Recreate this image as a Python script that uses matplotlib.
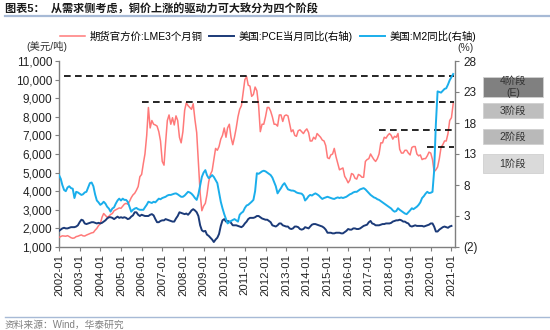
import matplotlib
matplotlib.use('Agg')
import matplotlib.pyplot as plt
import matplotlib.dates as mdates
import pandas as pd
from matplotlib.patches import Rectangle
from matplotlib.lines import Line2D
from matplotlib.ticker import FuncFormatter, FixedLocator

plt.rcParams['font.family'] = ['Liberation Sans', 'Noto Sans CJK SC']

# ---------------- data (monthly, 2002-01 .. ) ----------------
lme_copper = [
    1520, 1560, 1600, 1590, 1580, 1610, 1560, 1500, 1470, 1490, 1560, 1580,  # 2002
    1620, 1650, 1600, 1590, 1640, 1680, 1720, 1760, 1780, 1900, 2000, 2150,  # 2003
    2250, 2600, 2800, 2700, 2600, 2650, 2750, 2800, 2950, 3000, 3050, 3100,  # 2004
    3080, 3200, 3300, 3350, 3300, 3450, 3650, 3800, 3890, 4050, 4250, 4780,  # 2005
    4900, 5500, 6000, 7000, 8500, 7400, 7800, 7600, 7560, 7500, 7200, 6700,  # 2006
    5600, 5400, 6600, 7800, 8100, 7600, 7950, 7560, 8050, 7800, 6900, 6600,  # 2007
    7200, 8350, 8750, 8600, 8500, 8400, 8700, 7850, 7150, 5500, 3900, 2950,  # 2008
    3200, 3350, 3800, 4500, 4900, 5100, 5700, 6300, 6200, 6400, 6800, 7000,  # 2009
    7400, 6900, 7400, 7600, 6900, 6500, 6900, 7400, 8000, 8400, 8600, 9300,  # 2010
    10000, 10150, 9700, 9650, 9100, 9200, 9600, 9400, 8600, 7200, 7600, 7600,  # 2011
    8000, 8500, 8500, 8300, 8000, 7600, 7600, 7500, 8100, 8100, 7750, 8050,  # 2012
    8100, 8050, 7650, 7200, 7300, 7000, 6950, 7250, 7300, 7200, 7100, 7250,  # 2013
    7350, 7150, 6700, 6700, 6900, 6800, 7100, 7000, 6900, 6750, 6700, 6450,  # 2014
    5800, 5750, 5950, 6000, 6300, 5850, 5500, 5150, 5200, 5250, 4800, 4650,  # 2015
    4450, 4600, 4950, 4900, 4700, 4650, 4900, 4850, 4750, 4750, 5600, 5700,  # 2016
    5750, 6000, 5850, 5700, 5600, 5750, 6000, 6600, 6600, 6900, 6850, 7000,  # 2017
    7100, 7000, 6800, 6950, 6900, 7100, 6250, 6050, 6050, 6200, 6200, 6050,  # 2018
    5950, 6350, 6400, 6400, 6000, 5900, 5950, 5700, 5750, 5750, 5900, 6100,  # 2019
    6050, 5700, 5050, 5150, 5300, 5750, 6350, 6500, 6700, 6700, 7100, 7800,  # 2020
    7950, 8700,                                                              # 2021
]

us_pce_yoy = [
    0.6, 0.8, 1.0, 1.1, 1.0, 1.0, 1.1, 1.2, 1.2, 1.2, 1.3, 1.5,
    2.0, 2.4, 2.3, 1.8, 1.7, 1.8, 1.9, 2.0, 2.0, 1.9, 1.8, 1.9,
    1.8, 1.9, 2.1, 2.3, 2.6, 2.8, 2.8, 2.7, 2.5, 2.7, 2.9, 2.7,
    2.8, 2.7, 2.8, 2.7, 2.5, 2.6, 2.9, 3.1, 3.6, 3.6, 3.2, 3.0,
    3.2, 3.1, 3.0, 3.0, 3.0, 3.2, 3.3, 3.1, 2.5, 2.0, 2.0, 2.2,
    2.3, 2.3, 2.5, 2.4, 2.3, 2.2, 2.1, 2.1, 2.6, 3.0, 3.6, 3.5,
    3.4, 3.3, 3.4, 3.2, 3.5, 3.9, 4.1, 3.9, 3.6, 3.0, 1.5, 0.7,
    0.5, 0.6, 0.0, -0.2, -0.5, -0.8, -1.2, -0.8, -0.5, 0.1, 1.4, 2.3,
    2.5, 2.1, 2.2, 2.1, 1.9, 1.5, 1.5, 1.5, 1.4, 1.3, 1.2, 1.4,
    1.8, 2.1, 2.5, 2.7, 2.7, 2.7, 2.8, 3.0, 3.0, 2.8, 2.6, 2.5,
    2.4, 2.4, 2.2, 2.0, 1.5, 1.4, 1.3, 1.5, 1.8, 1.8, 1.5, 1.4,
    1.3, 1.3, 1.0, 0.9, 1.0, 1.3, 1.3, 1.2, 0.9, 0.8, 0.9, 1.2,
    1.1, 1.0, 1.3, 1.6, 1.7, 1.7, 1.6, 1.5, 1.4, 1.3, 1.1, 0.8,
    0.3, 0.3, 0.3, 0.2, 0.2, 0.3, 0.3, 0.3, 0.2, 0.2, 0.4, 0.6,
    0.9, 0.8, 0.8, 1.0, 1.0, 0.9, 0.9, 1.0, 1.2, 1.4, 1.5, 1.6,
    2.0, 2.2, 1.8, 1.7, 1.5, 1.5, 1.5, 1.6, 1.7, 1.7, 1.8, 1.8,
    1.8, 1.9, 2.1, 2.2, 2.3, 2.3, 2.4, 2.3, 2.1, 2.1, 1.9, 1.8,
    1.4, 1.3, 1.4, 1.5, 1.4, 1.4, 1.4, 1.4, 1.3, 1.4, 1.5, 1.6,
    1.8, 1.8, 1.3, 0.5, 0.5, 0.8, 1.0, 1.2, 1.3, 1.2, 1.1, 1.3,
    1.4,
]

us_m2_yoy = [
    9.6, 9.0, 8.0, 7.2, 7.0, 7.6, 7.8, 7.5, 7.4, 5.9, 6.9, 6.8,
    6.6, 6.4, 6.5, 6.8, 6.9, 7.6, 8.3, 8.4, 7.8, 6.5, 5.5, 5.2,
    4.8, 5.0, 5.3, 5.0, 4.5, 4.2, 3.7, 4.2, 4.4, 5.0, 5.5, 5.8,
    5.5, 5.8, 5.6, 5.6, 5.3, 4.5, 3.7, 4.0, 4.2, 4.3, 4.1, 4.0,
    4.0, 4.0, 4.4, 4.8, 5.3, 5.2, 5.1, 5.3, 5.2, 5.5, 5.8, 5.7,
    5.9, 6.0, 6.1, 6.3, 6.4, 6.4, 6.5, 6.6, 6.65, 6.5, 6.3, 6.1,
    6.1, 6.3, 6.6, 6.9, 6.8, 6.6, 6.3, 5.9, 5.6, 6.5, 7.9, 9.3,
    10.0, 10.4, 9.6, 9.1, 9.3, 9.6, 9.3, 8.8, 8.3, 6.8, 5.3, 4.25,
    3.3, 2.5, 1.8, 2.0, 2.2, 2.35, 2.5, 2.3, 2.1, 3.2, 3.5, 3.7,
    4.3, 4.7, 4.8, 5.05, 5.3, 5.6, 7.0, 9.9, 9.8, 10.0, 10.2, 10.3,
    10.2, 10.0, 9.8, 9.6, 9.2, 8.5, 7.8, 6.65, 7.1, 7.5, 8.0, 8.3,
    7.8, 7.3, 7.2, 7.1, 7.1, 7.0, 6.8, 6.7, 6.65, 6.6, 6.3, 5.5,
    5.8, 6.2, 6.4, 6.3, 6.5, 6.65, 6.5, 6.3, 6.0, 5.75, 5.9, 6.0,
    6.1, 6.0, 5.9, 5.8, 5.75, 5.9, 6.0, 5.9, 6.0, 5.9, 6.0, 6.1,
    6.3, 6.5, 6.6, 6.8, 6.9, 6.9, 7.1, 7.3, 7.4, 7.5, 7.3, 7.0,
    6.7, 6.4, 6.2, 6.0, 5.9, 5.7, 5.6, 5.4, 5.2, 5.0, 4.8, 4.6,
    4.4, 4.2, 3.9, 3.7, 3.8, 4.25, 4.0, 3.8, 3.6, 3.4, 3.3, 3.6,
    3.9, 4.25, 4.1, 4.3, 4.5, 4.8, 5.2, 5.9, 6.2, 6.6, 6.9, 6.7,
    6.75, 6.9, 10.3, 17.9, 23.1, 23.0, 22.9, 23.2, 23.5, 23.6, 24.2, 24.9,
    25.4, 25.9,
]

stage_levels = [10200, 8800, 7300, 6400]          # dashed lines (LME scale)
stage_starts = ['2002-04-01', '2006-01-01', '2017-07-01', '2019-11-01']
stage_end = '2021-02-20'

stage_labels = ['4阶段\n(E)', '3阶段', '2阶段', '1阶段']
stage_colors = ['#808080', '#BEBEBE', '#B9B9B9', '#DADADA']

left_ticks = list(range(1000, 11001, 1000))
right_ticks = [-2, 3, 8, 13, 18, 23, 28]
x_years = list(range(2002, 2022))

# ---------------- figure ----------------
W, H = 550, 330
fig = plt.figure(figsize=(5.5, 3.3), dpi=100)
ax = fig.add_axes([59 / W, 1 - 247 / H, (455 - 59) / W, (247 - 61) / H])
ax2 = ax.twinx()

start = pd.Timestamp('2002-01-01')
d_lme = pd.date_range(start, periods=len(lme_copper), freq='MS')
d_pce = pd.date_range(start, periods=len(us_pce_yoy), freq='MS')
d_m2 = pd.date_range(start, periods=len(us_m2_yoy), freq='MS')

c_lme = '#FF6B6B'
c_pce = '#1B3A78'
c_m2 = '#1AAEEB'

l1, = ax.plot(d_lme, lme_copper, color=c_lme, lw=1.1, alpha=0.9, zorder=3)
l2, = ax2.plot(d_pce, us_pce_yoy, color=c_pce, lw=1.4, zorder=3)
l3, = ax2.plot(d_m2, us_m2_yoy, color=c_m2, lw=1.4, zorder=3)

for lvl, s in zip(stage_levels, stage_starts):
    ax.hlines(lvl, pd.Timestamp(s), pd.Timestamp(stage_end), colors='black',
              linestyles=(0, (4, 2.6)), lw=1.2, zorder=4)

ax.set_xlim(start, pd.Timestamp('2021-03-05'))
ax.set_ylim(1000, 11000)
ax2.set_ylim(-2, 28)

ax.yaxis.set_major_locator(FixedLocator(left_ticks))
ax.yaxis.set_major_formatter(FuncFormatter(lambda v, p: f'{int(v):,}'))
ax2.yaxis.set_major_locator(FixedLocator(right_ticks))
ax2.yaxis.set_major_formatter(FuncFormatter(lambda v, p: f'({int(-v)})' if v < 0 else f'{int(v)}'))

ax.xaxis.set_major_locator(FixedLocator([mdates.date2num(pd.Timestamp(f'{y}-01-01')) for y in x_years]))
ax.xaxis.set_major_formatter(mdates.DateFormatter('%Y-%m'))
for lab in ax.get_xticklabels():
    lab.set_rotation(90)

spine_c = '#7F7F7F'
for a in (ax, ax2):
    a.spines['top'].set_visible(False)
    for s in ('left', 'right', 'bottom'):
        a.spines[s].set_color(spine_c)
        a.spines[s].set_linewidth(1.0)
ax.spines['right'].set_visible(False)
ax2.spines['left'].set_visible(False)
ax2.spines['bottom'].set_visible(False)

ax.tick_params(axis='y', direction='out', length=3, color=spine_c, labelsize=8.5, pad=2, labelcolor='#222222')
ax.tick_params(axis='x', direction='out', length=3, color=spine_c, labelsize=8.2, pad=2, labelcolor='#222222')
ax2.tick_params(axis='y', direction='out', length=3, color=spine_c, labelsize=8.5, pad=3, labelcolor='#222222')

# legend
fig.legend([l1, l2, l3], ['期货官方价:LME3个月铜', '美国:PCE当月同比(右轴)', '美国:M2同比(右轴)'],
           loc='center', bbox_to_anchor=(268 / W, 1 - 36 / H), ncol=3, frameon=False,
           fontsize=7.5, handlelength=2.4, handletextpad=0.4, columnspacing=0.7)

fig.text(26 / W, 1 - 47 / H, '(美元/吨)', fontsize=7.5, va='center', ha='left', color='#333333')
fig.text(457 / W, 1 - 48 / H, '(%)', fontsize=7.5, va='center', ha='left', color='#333333')

# title & source
fig.text(5 / W, 1 - 9 / H, '图表5：  从需求侧考虑，铜价上涨的驱动力可大致分为四个阶段',
         fontsize=8, fontweight='bold', va='center', ha='left', color='#1a1a1a')
fig.add_artist(Line2D([5 / W, 1.0], [1 - 16 / H] * 2, transform=fig.transFigure, color='#A7BAD6', lw=1.6))
fig.add_artist(Line2D([5 / W, 1.0], [1 - 317 / H] * 2, transform=fig.transFigure, color='#A7BAD6', lw=1.0))
fig.text(5 / W, 1 - 325 / H, '资料来源：Wind，华泰研究', fontsize=7, va='center', ha='left', color='#808080')

# stage boxes on the right
boxes = [(77, 97), (103, 118), (129, 144), (154, 173)]
for (y0, y1), lab, col in zip(boxes, stage_labels, stage_colors):
    fig.add_artist(Rectangle((483 / W, 1 - y1 / H), 60 / W, (y1 - y0) / H,
                             transform=fig.transFigure, facecolor=col, edgecolor='#D0D0D0', lw=0.6))
    fig.text(513 / W, 1 - (y0 + y1) / 2 / H, lab, fontsize=7.5, ha='center', va='center',
             color='#333333', linespacing=1.2)

fig.savefig('out.png', dpi=100)
